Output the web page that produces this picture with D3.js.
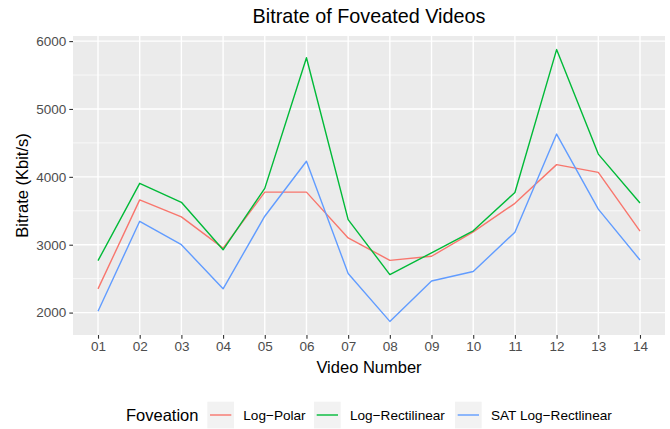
<!DOCTYPE html>
<html><head><meta charset="utf-8">
<script src="https://cdn.jsdelivr.net/npm/d3@7"></script>
<style>body{margin:0;background:#fff}svg{display:block;font-family:"Liberation Sans",Arial,Helvetica,sans-serif}</style>
</head><body><svg id="c" width="670" height="429"></svg>
<script>
const categories = ["01","02","03","04","05","06","07","08","09","10","11","12","13","14"];
const logPolar   = [2350, 3660, 3410, 2950, 3775, 3775, 3100, 2770, 2830, 3190, 3610, 4180, 4065, 3200];
const logRect    = [2765, 3905, 3625, 2925, 3830, 5755, 3370, 2560, 2880, 3205, 3770, 5875, 4335, 3615];
const satLogRect = [2020, 3345, 3000, 2350, 3420, 4230, 2575, 1870, 2465, 2605, 3185, 4630, 3525, 2775];
const seriesNames = ["Log\u2212Polar", "Log\u2212Rectilinear", "SAT Log\u2212Rectlinear"];
const seriesColors = ["#F8766D", "#00BA38", "#619CFF"];
const yTicks = [2000, 3000, 4000, 5000, 6000];
const yMinor = [2500, 3500, 4500, 5500];

const series = [logPolar, logRect, satLogRect];
const svg = d3.select("#c");
const L = 73, R = 665, T = 36, B = 335;

const all = series.flat();
const lo = d3.min(all), hi = d3.max(all), pad = (hi - lo) * 0.05;
const x = d3.scalePoint().domain(categories).range([L, R]).padding(0.6);
const y = d3.scaleLinear().domain([lo - pad, hi + pad]).range([B, T]);

svg.append("rect").attr("x", L).attr("y", T).attr("width", R - L).attr("height", B - T).attr("fill", "#EBEBEB");
const g = svg.append("g");
g.selectAll(".mn").data(yMinor).join("line").attr("x1", L).attr("x2", R)
  .attr("y1", d => y(d)).attr("y2", d => y(d)).attr("stroke", "#fff").attr("stroke-width", 0.7);
g.selectAll(".mj").data(yTicks).join("line").attr("x1", L).attr("x2", R)
  .attr("y1", d => y(d)).attr("y2", d => y(d)).attr("stroke", "#fff").attr("stroke-width", 1.4);
g.selectAll(".vx").data(categories).join("line").attr("y1", T).attr("y2", B)
  .attr("x1", d => x(d)).attr("x2", d => x(d)).attr("stroke", "#fff").attr("stroke-width", 1.4);

const line = d3.line().x((d, i) => x(categories[i])).y(d => y(d));
series.forEach((s, k) => {
  svg.append("path").datum(s).attr("d", line).attr("fill", "none")
    .attr("stroke", seriesColors[k]).attr("stroke-width", 1.4).attr("stroke-linejoin", "round");
});

// axes
const yAx = svg.append("g").attr("transform", `translate(${L},0)`)
  .call(d3.axisLeft(y).tickValues(yTicks).tickSize(3.7).tickPadding(3).tickFormat(d3.format("d")));
const xAx = svg.append("g").attr("transform", `translate(0,${B})`)
  .call(d3.axisBottom(x).tickSize(3.7).tickPadding(3));
[yAx, xAx].forEach(a => {
  a.select(".domain").remove();
  a.selectAll(".tick line").attr("stroke", "#333").attr("stroke-width", 1.1);
  a.selectAll(".tick text").attr("fill", "#4D4D4D").attr("font-size", 13.5)
    .attr("font-family", "Liberation Sans, Arial, sans-serif");
});

svg.append("text").attr("x", (L + R) / 2).attr("y", 23.3).attr("text-anchor", "middle")
  .attr("font-size", 19.8).attr("fill", "#000").text("Bitrate of Foveated Videos");
svg.append("text").attr("x", (L + R) / 2).attr("y", 373.3).attr("text-anchor", "middle")
  .attr("font-size", 16.5).attr("fill", "#000").text("Video Number");
svg.append("text").attr("transform", `translate(28,${(T + B) / 2}) rotate(-90)`).attr("text-anchor", "middle")
  .attr("font-size", 16.5).attr("fill", "#000").text("Bitrate (Kbit/s)");

// legend
const ly = 415;
svg.append("text").attr("x", 126).attr("y", ly).attr("dy", "0.36em").attr("font-size", 16.5).text("Foveation");
const keyX = [207.3, 314, 455];
seriesNames.forEach((n, k) => {
  const kx = keyX[k];
  svg.append("rect").attr("x", kx).attr("y", 401.7).attr("width", 26.7).attr("height", 26.7).attr("fill", "#F2F2F2");
  svg.append("line").attr("x1", kx + 2.7).attr("x2", kx + 24).attr("y1", ly).attr("y2", ly)
    .attr("stroke", seriesColors[k]).attr("stroke-width", 1.4);
  svg.append("text").attr("x", kx + 36).attr("y", ly).attr("dy", "0.36em").attr("font-size", 13.6).text(n);
});
</script></body></html>
